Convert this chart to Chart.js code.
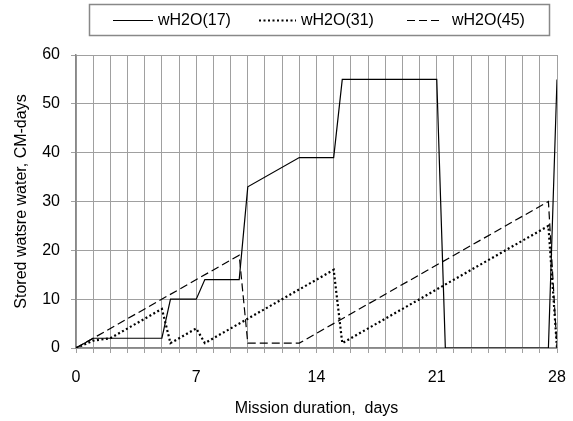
<!DOCTYPE html>
<html>
<head>
<meta charset="utf-8">
<script src="https://cdn.jsdelivr.net/npm/chart.js@4.4.1/dist/chart.umd.min.js"></script>
<style>
  body { margin: 0; background: #fff; }
</style>
</head>
<body>
<canvas id="waterChart" width="573" height="421"></canvas>
<script>
// stored water per crew member, by mission day
const seriesNames = ["wH2O(17)", "wH2O(31)", "wH2O(45)"];

const days17 = [0, 1, 5, 5.5, 7, 7.5, 9.5, 10, 13, 15, 15.5, 21, 21.5, 27.5, 28];
const water17 = [0, 2, 2, 10, 10, 14, 14, 33, 39, 39, 55, 55, 0, 0, 55];

const days31 = [0, 1, 2, 5, 5.5, 7, 7.5, 15, 15.5, 27.5, 28];
const water31 = [0, 1.5, 2, 8, 1, 4, 1, 16, 1, 25, 0];

const days45 = [0, 9.5, 10, 13, 27.5, 28];
const water45 = [0, 19, 1, 1, 30, 0];

const dayTicks = [0, 7, 14, 21, 28];

function points(days, vals) {
  return days.map((d, i) => ({ x: d, y: vals[i] }));
}

Chart.defaults.font.family = "'Liberation Sans', Arial, sans-serif";
Chart.defaults.font.size = 16;
Chart.defaults.color = "#000";

// legend drawn by hand: framed box with line samples
const boxLegend = {
  id: "boxLegend",
  afterDraw(chart) {
    const ctx = chart.ctx;
    ctx.save();
    ctx.strokeStyle = "#888";
    ctx.lineWidth = 1.5;
    ctx.strokeRect(89.5, 4.5, 460, 31);
    const samples = [[113, 153, 158], [259, 296, 301], [407, 442, 452]];
    chart.data.datasets.forEach((ds, i) => {
      const [x1, x2, tx] = samples[i];
      ctx.beginPath();
      ctx.strokeStyle = "#000";
      ctx.lineWidth = ds.borderWidth;
      ctx.setLineDash(ds.borderDash || []);
      ctx.moveTo(x1, 20.5);
      ctx.lineTo(x2, 20.5);
      ctx.stroke();
      ctx.setLineDash([]);
      ctx.fillStyle = "#000";
      ctx.font = "16px 'Liberation Sans', Arial, sans-serif";
      ctx.textBaseline = "middle";
      ctx.fillText(ds.label, tx, 21);
    });
    ctx.restore();
  }
};

new Chart(document.getElementById("waterChart"), {
  type: "line",
  data: {
    datasets: [
      {
        label: seriesNames[0],
        data: points(days17, water17),
        borderColor: "#000",
        borderWidth: 1.2,
        pointRadius: 0,
        tension: 0
      },
      {
        label: seriesNames[1],
        data: points(days31, water31),
        borderColor: "#000",
        borderWidth: 2.2,
        borderDash: [2, 2.5],
        pointRadius: 0,
        tension: 0
      },
      {
        label: seriesNames[2],
        data: points(days45, water45),
        borderColor: "#000",
        borderWidth: 1.2,
        borderDash: [8, 4],
        pointRadius: 0,
        tension: 0
      }
    ]
  },
  options: {
    responsive: false,
    animation: false,
    layout: { padding: { left: 12, right: 16, top: 55, bottom: 0 } },
    plugins: {
      legend: { display: false },
      tooltip: { enabled: false }
    },
    scales: {
      x: {
        type: "linear",
        min: 0,
        max: 28,
        afterFit: s => {
          s.height = 73;
          // the "28" label may overhang the right edge
          s.paddingLeft = 0;
          s.paddingRight = 0;
        },
        ticks: {
          stepSize: 1,
          autoSkip: false,
          maxRotation: 0,
          padding: 15,
          callback: v => dayTicks.includes(v) ? String(v) : ""
        },
        grid: { color: "#a0a0a0", lineWidth: 1, tickLength: 5 },
        border: { color: "#888", width: 1.5 },
        title: {
          display: true,
          text: "Mission duration,  days",
          padding: { top: 0, bottom: 3 }
        }
      },
      y: {
        min: 0,
        max: 60,
        afterFit: s => { s.width = 64; },
        ticks: { stepSize: 10, padding: 11 },
        grid: { color: "#a0a0a0", lineWidth: 1, tickLength: 5 },
        border: { color: "#888", width: 1.5 },
        title: {
          display: true,
          text: "Stored watsre water, CM-days",
          padding: { top: 0, bottom: 0 }
        }
      }
    }
  },
  plugins: [boxLegend]
});
</script>
</body>
</html>
